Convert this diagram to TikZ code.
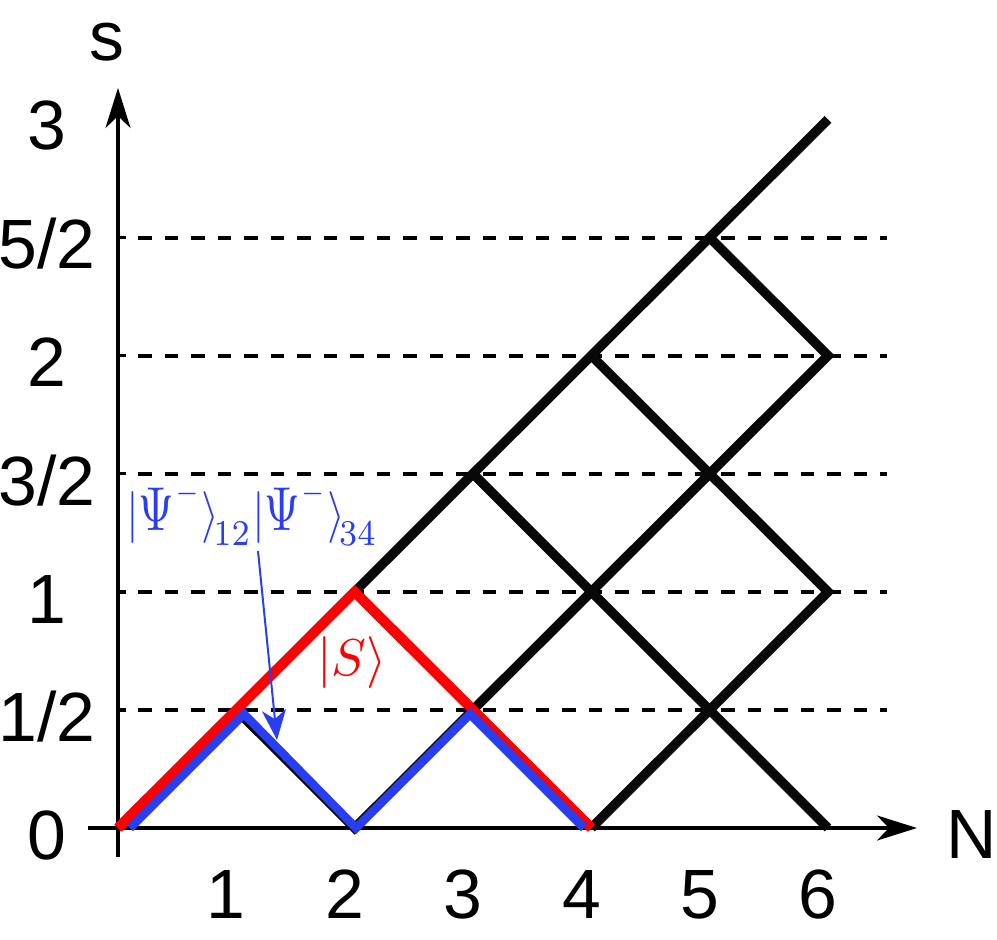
\documentclass[tikz,border=0pt]{standalone}
\usepackage{graphicx}
\usepackage{fontspec}
\setmainfont{Liberation Sans}
\usetikzlibrary{arrows.meta}
\definecolor{bluepath}{RGB}{40,62,240}
\definecolor{redpath}{RGB}{255,0,0}
\definecolor{latt}{RGB}{8,8,8}
\newcommand{\tallPsi}{\mbox{\scalebox{1}[1.2]{$\Psi$}}}
\newcommand{\lowsub}[1]{\raisebox{-1.4pt}{$\scriptstyle #1$}}
\begin{document}
\begin{tikzpicture}[x=1bp,y=-1bp,
  axisline/.style={line width=3.5bp,black,-{Stealth[length=40bp,width=25bp,inset=12bp]}},
  tickline/.style={line width=3.5bp,black},
  dashline/.style={line width=4bp,black,dash pattern=on 13.5bp off 13bp},
  lattice/.style={line width=9.5bp,latt,line join=miter,line cap=butt},
  redline/.style={line width=10bp,redpath,line join=miter,line cap=butt},
  blueline/.style={line width=8.5bp,bluepath,line join=miter,line cap=butt},
  bluearrow/.style={line width=2bp,bluepath,-{Stealth[length=30bp,width=24bp,inset=9bp]}},
  biglabel/.style={font=\fontsize{70}{80}\selectfont,inner sep=0pt,anchor=base},
  ketlabel/.style={inner sep=0pt,anchor=base west}]
\useasboundingbox (0,0) rectangle (997,940);
% grid points: g<N><2s>
\foreach \n in {0,...,6}{
  \foreach \k in {0,...,6}{
    \coordinate (g\n\k) at ({118+118.33*\n},{828-118.1*\k});
  }
}
% dashed levels
\foreach \k in {1,...,5}{
  \coordinate (tL\k) at (118,{828-118.1*\k});
  \coordinate (tR\k) at (126,{828-118.1*\k});
  \coordinate (dL\k) at (138,{828-118.1*\k});
  \coordinate (dR\k) at (887,{828-118.1*\k});
  \draw[tickline] (tL\k) -- (tR\k);
  \draw[dashline] (dL\k) -- (dR\k);
}
% axes
\coordinate (xs) at (88,828);
\coordinate (xe) at (917,828);
\coordinate (ys) at (118,857);
\coordinate (ye) at (118,88);
\draw[axisline] (xs) -- (xe);
\draw[axisline] (ys) -- (ye);
% black lattice
\draw[lattice] (g00) -- (g66);
\draw[lattice] (g22) -- (g40);
\draw[lattice] (g11) -- (g20) -- (g64) -- (g55);
\draw[lattice] (g40) -- (g62) -- (g44);
\draw[lattice] (g33) -- (g60);
% red path |S>
\draw[redline] (g00) -- (g11) -- (g22) -- (g31) -- (g40);
% blue path
\coordinate (b0) at (130,828);
\coordinate (b1) at (244,714);
\coordinate (b2) at (356,828);
\coordinate (b3) at (470,714);
\coordinate (b4) at (584,828);
\draw[blueline] (b0) -- (b1) -- (b2) -- (b3) -- (b4);
% axis labels
\node[biglabel] (ls0) at (47,859) {0};
\node[biglabel] (ls1) at (47,741) {1/2};
\node[biglabel] (ls2) at (47,623) {1};
\node[biglabel] (ls3) at (47,505) {3/2};
\node[biglabel] (ls4) at (47,386) {2};
\node[biglabel] (ls5) at (47,268) {5/2};
\node[biglabel] (ls6) at (47,149) {3};
\node[biglabel] (ln1) at (226,918) {1};
\node[biglabel] (ln2) at (345,918) {2};
\node[biglabel] (ln3) at (463,918) {3};
\node[biglabel] (ln4) at (582,918) {4};
\node[biglabel] (ln5) at (700,918) {5};
\node[biglabel] (ln6) at (818,918) {6};
\node[biglabel] (laxs) at (107,60) {s};
\node[biglabel] (laxn) at (972,858) {N};
% ket labels
\node[ketlabel,text=bluepath] (psi) at (126,530)
  {\scalebox{4.6}[5.2]{$|\tallPsi^{\scriptscriptstyle -}\rangle_{\!\lowsub{12}}|\tallPsi^{\scriptscriptstyle -}\rangle_{\!\lowsub{34}}$}};
\node[ketlabel,text=redpath] (sket) at (317,675) {\scalebox{5.2}{$|S\rangle$}};
% blue arrow
\coordinate (aS) at (258,551);
\coordinate (aE) at (277,740);
\draw[bluearrow] (aS) -- (aE);
\end{tikzpicture}
\end{document}
